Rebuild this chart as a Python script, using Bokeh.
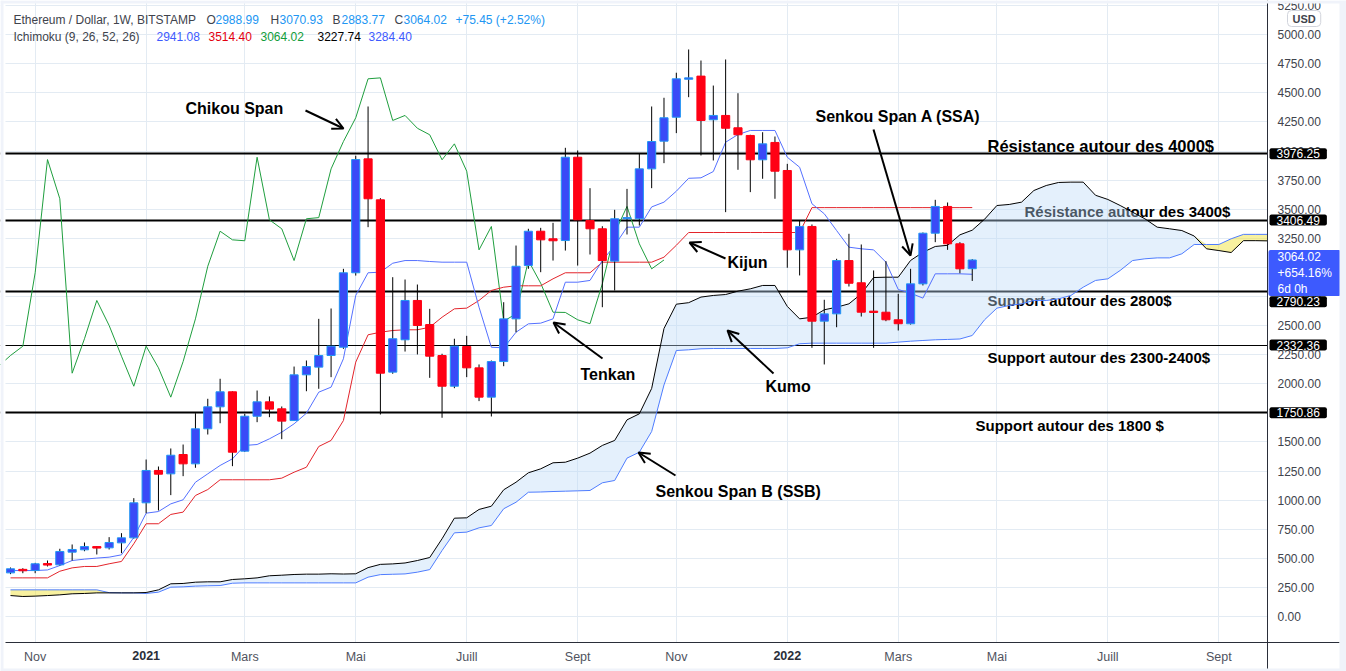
import numpy as np
from bokeh.plotting import figure
from bokeh.models import Range1d, FixedTicker, PrintfTickFormatter, Label, Arrow, OpenHead, BoxAnnotation
from bokeh.core.properties import value
from bokeh.embed import file_html
from bokeh.resources import INLINE

# ---------------- data (weekly ETH/USD, Bitstamp, from week of 2020-10-19) ----------------
opens = [375, 405, 395, 455, 444, 553, 573, 601, 590, 633,
         676, 977, 1255, 1226, 1392, 1312, 1613, 1802, 1931, 1421,
         1721, 1845, 1785, 1684, 2077, 2143, 2243, 2314, 2954, 3933,
         3581, 2100, 2378, 2716, 2509, 2243, 1979, 2320, 2137, 1885,
         2191, 2558, 3016, 3311, 3246, 3231, 3947, 3403, 3332, 3054,
         3418, 3418, 3847, 4085, 4291, 4617, 4644, 4269, 4306, 4200,
         4134, 3925, 4074, 3833, 3151, 3352, 2538, 2601, 3059, 2868,
         2624, 2615, 2550, 2516, 2859, 3294, 3524, 3203, 2988.99]
highs = [421, 415, 461, 481, 582, 619, 636, 604, 682, 716,
         1017, 1349, 1289, 1444, 1478, 1747, 1871, 2043, 1935, 1742,
         1942, 1891, 1805, 2148, 2200, 2558, 2647, 2988, 3960, 4383,
         3595, 2916, 2896, 2853, 2644, 2258, 2387, 2412, 2166, 2200,
         2701, 3188, 3332, 3340, 3383, 4028, 4005, 3681, 3354, 3495,
         3675, 3976, 4383, 4458, 4673, 4873, 4778, 4563, 4787, 4497,
         4140, 4162, 4125, 3890, 3403, 3369, 2722, 3074, 3289, 3197,
         2974, 3054, 2773, 2988, 3300, 3581, 3558, 3217, 3070.93]
lows = [364, 372, 372, 430, 438, 481, 561, 533, 576, 544,
        670, 888, 911, 1043, 1206, 1278, 1564, 1661, 1292, 1415,
        1670, 1713, 1524, 1680, 1936, 1957, 2057, 2300, 2930, 3346,
        1736, 2086, 2277, 2252, 2051, 1708, 1962, 2057, 1851, 1719,
        2151, 2443, 2988, 2959, 3059, 3145, 3016, 3111, 2658, 2802,
        3283, 3360, 3681, 3896, 4154, 4463, 3962, 3919, 3475, 3839,
        3647, 3762, 3590, 2997, 2931, 2309, 2166, 2486, 2836, 2578,
        2309, 2538, 2458, 2509, 2845, 3217, 3151, 2950, 2883.77]
closes = [410, 393, 453, 442, 559, 576, 601, 588, 636, 676,
          977, 1255, 1223, 1386, 1312, 1613, 1802, 1931, 1412, 1721,
          1845, 1782, 1679, 2077, 2148, 2243, 2323, 2954, 3927, 3590,
          2091, 2387, 2716, 2501, 2237, 1979, 2323, 2137, 1885, 2191,
          2558, 3010, 3311, 3237, 3229, 3947, 3409, 3332, 3059, 3418,
          3428, 3847, 4082, 4286, 4621, 4629, 4263, 4306, 4196, 4140,
          3925, 4062, 3827, 3151, 3352, 2538, 2601, 3059, 2864, 2615,
          2613, 2550, 2516, 2859, 3294, 3524, 3203, 2988, 3064.02]

# Ichimoku lines (same weekly index)
tenkan = [395, 395, 395, 400, 438, 481, 493, 502, 510, 530,
          680, 888, 902, 968, 1003, 1154, 1226, 1298, 1355, 1470,
          1478, 1527, 1584, 1656, 1747, 1928, 1971, 2215, 2759, 2954,
          2959, 3036, 3059, 3059, 3051, 3045, 3045, 3045, 2658, 2314,
          2309, 2443, 2515, 2521, 2558, 2873, 2873, 2888, 3059, 3188,
          3346, 3346, 3520, 3561, 3655, 3766, 3770, 3824, 4076, 4142,
          4177, 4177, 4177, 3947, 3861, 3547, 3461, 3317, 3174, 3160,
          3151, 3045, 2810, 2779, 2736, 2945, 2945, 2945, 2941.08]
kijun = [332, 332, 332, 332, 389, 418, 430, 430, 453, 473,
         625, 797, 797, 877, 897, 1040, 1091, 1175, 1175, 1175,
         1175, 1175, 1189, 1240, 1283, 1461, 1513, 1684, 2186, 2421,
         2443, 2458, 2464, 2464, 2486, 2572, 2644, 2650, 2716, 2802,
         2830, 2842, 2842, 2842, 2902, 2954, 2954, 2954, 3045, 3045,
         3045, 3045, 3045, 3088, 3190, 3300, 3300, 3300, 3300, 3300,
         3300, 3300, 3300, 3300, 3300, 3514, 3514, 3514, 3514, 3514,
         3514, 3514, 3514, 3514, 3514, 3514, 3514, 3514, 3514.40]
# leading spans, already placed 25 weeks ahead (index 0..103)
span_a = [180, 172, 175, 180, 186, 195, 198, 203, 203, 203,
          203, 206, 229, 281, 284, 295, 298, 298, 318, 324,
          332, 350, 355, 361, 364, 364, 367, 365, 367, 420,
          448, 452, 460, 481, 507, 668, 845, 848, 920, 948,
          1089, 1154, 1235, 1269, 1321, 1326, 1361, 1404, 1470, 1513,
          1690, 1742, 1960, 2475, 2684, 2697, 2745, 2759, 2767, 2796,
          2816, 2845, 2845, 2665, 2558, 2572, 2636, 2658, 2687, 2773,
          2913, 2916, 2916, 3060, 3130, 3180, 3190, 3280, 3320, 3414,
          3532, 3541, 3561, 3661, 3704, 3730, 3733, 3733, 3620, 3584,
          3532, 3475, 3418, 3346, 3332, 3317, 3270, 3160, 3145, 3128,
          3230, 3230, 3228, 3227.74]
span_b = [229, 229, 229, 229, 229, 229, 229, 229, 205, 203,
          203, 198, 209, 252, 255, 261, 264, 266, 286, 289,
          289, 289, 289, 289, 289, 289, 289, 289, 289, 338,
          360, 363, 366, 381, 403, 567, 719, 725, 762, 782,
          926, 982, 1068, 1070, 1074, 1077, 1080, 1083, 1149, 1169,
          1361, 1412, 1590, 1990, 2286, 2292, 2301, 2303, 2303, 2303,
          2303, 2303, 2303, 2309, 2344, 2349, 2349, 2349, 2349, 2349,
          2349, 2349, 2358, 2366, 2372, 2378, 2381, 2385, 2415, 2550,
          2650, 2673, 2687, 2716, 2716, 2730, 2759, 2830, 2888, 2902,
          2974, 3059, 3074, 3082, 3082, 3117, 3197, 3197, 3197, 3246,
          3284, 3284, 3284, 3284.40]
chikou_offset = 25

month_ticks = [2, 11, 19, 28, 37, 46, 54, 63, 72, 80, 89, 98]
month_labels = ["Nov", "2021", "Mars", "Mai", "Juill", "Sept",
                "Nov", "2022", "Mars", "Mai", "Juill", "Sept"]
year_labels = ["2021", "2022"]
price_ticks = list(range(0, 5251, 250))

level_values = [3976.25, 3406.49, 2790.23, 2332.36, 1750.86]
level_widths = [2, 2, 2, 1.2, 2]

last_close_tag = "3064.02\n+654.16%\n6d 0h"

# ---------------- helpers: page pixel -> data coords (layout positions only) ----------------
def X(px):
    return (px - 10) / 12.33

def Y(py):
    return (616 - py) * 8.594

FONT = "Liberation Sans"
GRAY_EDGE = "#f0f3fa"
CHART_RIGHT = 1267   # px, price scale starts here
CHART_BOTTOM = 642   # px, time scale starts here
TAG_SHIFT_PX = {2790.23: 10}   # tag pushed down to clear the last-price tag

p = figure(width=1346, height=671, output_backend="svg", toolbar_location=None,
           x_range=Range1d(X(0), X(1346)), y_range=Range1d(Y(671), Y(0)),
           y_axis_location="right", min_border=0,
           background_fill_color="white", border_fill_color="white", outline_line_color=None)

# price scale (right)
p.yaxis.fixed_location = X(CHART_RIGHT)
p.yaxis.bounds = (Y(670), Y(0))
p.yaxis.ticker = FixedTicker(ticks=price_ticks)
p.yaxis.formatter = PrintfTickFormatter(format="%.2f")
p.yaxis.major_tick_line_color = None
p.yaxis.minor_tick_line_color = None
p.yaxis.major_tick_out = 0
p.yaxis.major_tick_in = 0
p.yaxis.major_label_standoff = 10
p.yaxis.major_label_text_font = FONT
p.yaxis.major_label_text_font_size = "12px"
p.yaxis.major_label_text_color = "#40434c"
p.yaxis.axis_line_color = "#2a2e39"

# time scale (bottom)
p.xaxis.fixed_location = Y(CHART_BOTTOM)
p.xaxis.bounds = (X(5), X(1339))
p.xaxis.ticker = FixedTicker(ticks=month_ticks)
p.xaxis.major_label_overrides = {t: ("" if lab in year_labels else lab)
                                 for t, lab in zip(month_ticks, month_labels)}
p.xaxis.major_label_text_font = FONT
p.xaxis.major_label_text_font_size = "12.5px"
p.xaxis.major_label_text_color = "#50535e"
p.xaxis.major_label_standoff = 7
p.xaxis.major_tick_line_color = None
p.xaxis.minor_tick_line_color = None
p.xaxis.major_tick_out = 0
p.xaxis.major_tick_in = 0
p.xaxis.axis_line_color = "#2a2e39"

p.xgrid.ticker = FixedTicker(ticks=month_ticks)
p.ygrid.ticker = FixedTicker(ticks=price_ticks)
p.grid.grid_line_color = "#e3ebf3"
p.grid.grid_line_width = 1

# horizontal support / resistance lines
p.hspan(y=level_values, line_width=level_widths, line_color="black")

# annotation texts (under the cloud, like in the original)
big_txt = [("Chikou Span", 185, 108), ("Senkou Span A (SSA)", 815, 116),
           ("Kijun", 727, 262), ("Tenkan", 580, 374), ("Kumo", 765, 386),
           ("Senkou Span B (SSB)", 655, 491)]
small_txt = [("Résistance autour des 3400$", 1024, 211),
             ("Support autour des 2800$", 987, 300), ("Support autour des 2300-2400$", 987, 357),
             ("Support autour des 1800 $", 975, 425)]
for group, size in ((big_txt, "16px"), (small_txt, "15px"),
                    ([("Résistance autour des 4000$", 987, 145)], "16.5px")):
    p.text(x=[X(t[1]) for t in group], y=[Y(t[2]) for t in group], text=[t[0] for t in group],
           text_font=value(FONT), text_font_style="bold", text_font_size=size,
           text_baseline="middle", text_align="left", text_color="black")

# kumo
sa = np.array(span_a, dtype=float)
sb = np.array(span_b, dtype=float)
xl = np.arange(len(sa))
top = np.maximum(sa, sb)
p.varea(x=xl, y1=sb, y2=top, fill_color="#bbd9f7", fill_alpha=0.4)
p.varea(x=xl, y1=sa, y2=top, fill_color="#f0e12a", fill_alpha=0.45)
p.line(xl, sb, line_color="#4f7dff", line_width=1)
p.line(xl, sa, line_color="#000000", line_width=1)

n = len(closes)
xi = np.arange(n)
o = np.array(opens, dtype=float)
h = np.array(highs, dtype=float)
lo = np.array(lows, dtype=float)
c = np.array(closes, dtype=float)

# chikou (close plotted 25 weeks back)
p.line(xi[chikou_offset - 1:] - chikou_offset, c[chikou_offset - 1:], line_color="#1f9e3e", line_width=1)
p.line(xi, kijun, line_color="#e3242b", line_width=1)
p.line(xi, tenkan, line_color="#5470ff", line_width=1)

# candles
p.segment(xi, h, xi, lo, line_color="black", line_width=1)
up = c >= o
dn = ~up
p.vbar(x=xi[up], bottom=o[up], top=c[up], width=0.66, fill_color="#3a4af7", line_color="#2196f3", line_width=1)
p.vbar(x=xi[dn], bottom=c[dn], top=o[dn], width=0.66, fill_color="#ff0014", line_color="#ff0014", line_width=1)

# white scale areas, covering whatever runs past the chart pane
p.quad(left=[X(CHART_RIGHT), X(0), X(0)], right=[X(1346), X(1346), X(5)],
       bottom=[Y(671), Y(671), Y(671)], top=[Y(0), Y(CHART_BOTTOM), Y(0)],
       fill_color="white", line_color=None)

# arrows
arrows = [((305, 110), (343, 128)), ((873, 129), (910, 255)), ((725, 258), (689, 242)),
          ((602, 358), (553, 322)), ((773, 373), (727, 330)), ((675, 475), (638, 452))]
for (x0, y0), (x1, y1) in arrows:
    p.add_layout(Arrow(end=OpenHead(size=11, line_width=2, line_color="black"),
                       x_start=X(x0), y_start=Y(y0), x_end=X(x1), y_end=Y(y1),
                       line_width=2, line_color="black"))

# legend (top-left)
row1 = [("Ethereum / Dollar, 1W, BITSTAMP", 13, "#40434c"), ("O", 206, "#40434c"), ("2988.99", 215, "#2196f3"),
        ("H", 270, "#40434c"), ("3070.93", 279, "#2196f3"), ("B", 332, "#40434c"), ("2883.77", 341, "#2196f3"),
        ("C", 394, "#40434c"), ("3064.02", 403, "#2196f3"), ("+75.45 (+2.52%)", 455, "#2196f3")]
row2 = [("Ichimoku (9, 26, 52, 26)", 13, "#40434c"), ("2941.08", 156, "#3d5afe"), ("3514.40", 208, "#e3000f"),
        ("3064.02", 260, "#0f9d3a"), ("3227.74", 317, "#000000"), ("3284.40", 368, "#3d5afe")]
for row, py in ((row1, 19), (row2, 36)):
    for txt, px, col in row:
        p.add_layout(Label(x=X(px), y=Y(py), text=txt, text_color=col, text_font=FONT,
                           text_font_size="12px", text_baseline="middle", text_align="left"))

# bold year labels on the time scale
for t, lab in zip(month_ticks, month_labels):
    if lab in year_labels:
        p.add_layout(Label(x=t, y=Y(655), text=lab, text_align="center", text_baseline="middle",
                           text_font=FONT, text_font_size="12.5px", text_font_style="bold",
                           text_color="#2a2e39"))

# last price tag and level tags on the price scale
p.add_layout(Label(x=X(1268), y=Y(272.5), text=last_close_tag, text_color="white", text_font=FONT,
                   text_font_size="12px", text_line_height=1.15, text_baseline="middle", text_align="left",
                   background_fill_color="#3d5afe", padding=(9, 0), border_radius=2))
for v in level_values:
    shift = TAG_SHIFT_PX.get(v, 0)
    p.add_layout(Label(x=X(1269), y=v, y_offset=-shift, text=f"{v:.2f}", text_color="white", text_font=FONT,
                       text_font_size="12px", text_line_height=1.05, text_baseline="middle", text_align="left",
                       background_fill_color="black", padding=(7, 1), border_radius=2))
p.add_layout(Label(x=X(1287), y=Y(18), text="USD", text_color="#40434c", text_font=FONT,
                   text_font_size="11px", text_font_style="bold", text_baseline="middle", text_align="left",
                   background_fill_color="white", border_line_color="#d1d4dc", padding=(5, 2), border_radius=4))

# light outer border of the window
for l, r, b, t in ((0, 3, 671, 0), (0, 1346, 3, 0), (1339, 1346, 671, 0), (0, 1346, 671, 668)):
    p.add_layout(BoxAnnotation(left=X(l), right=X(r), bottom=Y(b), top=Y(t),
                               fill_color=GRAY_EDGE, fill_alpha=1.0, line_color=None))

open("out.html", "w").write(file_html(p, INLINE))
